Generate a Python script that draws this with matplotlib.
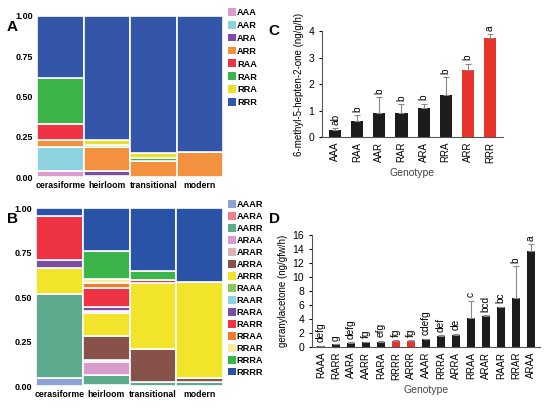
import matplotlib
matplotlib.use('Agg')
from matplotlib import pyplot as plt
from matplotlib.patches import Patch
import numpy as np

plt.rcParams['font.family'] = ['Liberation Sans', 'DejaVu Sans']

groups = ['cerasiforme', 'heirloom', 'transitional', 'modern']

# panel A: 3-locus haplotype frequencies per group
hap3 = ['AAA', 'AAR', 'ARA', 'ARR', 'RAA', 'RAR', 'RRA', 'RRR']
hap3_colors = ['#dc9bd0', '#8dd3df', '#7b4ea3', '#f4913f',
               '#ee3344', '#3bb54a', '#eae02a', '#3356a8']
freq3 = {
    'cerasiforme':  [0.037, 0.148, 0.0, 0.048, 0.095, 0.285, 0.0, 0.387],
    'heirloom':     [0.008, 0.0, 0.027, 0.150, 0.0, 0.015, 0.030, 0.770],
    'transitional': [0.0, 0.0, 0.0, 0.100, 0.0, 0.020, 0.030, 0.850],
    'modern':       [0.0, 0.0, 0.0, 0.155, 0.0, 0.0, 0.0, 0.845],
}

# panel B: 4-locus haplotype frequencies per group
hap4 = ['AAAR', 'AARA', 'AARR', 'ARAA', 'ARAR', 'ARRA', 'ARRR', 'RAAA',
        'RAAR', 'RARA', 'RARR', 'RRAA', 'RRAR', 'RRRA', 'RRRR']
hap4_colors = ['#8da0d8', '#ee8088', '#5daa8c', '#d89ccc', '#d9b4b4',
               '#86524a', '#f2e42a', '#8cc55a', '#8dd3df', '#7b4ea3',
               '#ee3344', '#f07d2e', '#faec9a', '#3bb54a', '#2a52a6']
freq4 = {
    'cerasiforme':  [0.045, 0.0, 0.475, 0.0, 0.0, 0.0, 0.145, 0.0,
                     0.0, 0.045, 0.245, 0.0, 0.0, 0.0, 0.045],
    'heirloom':     [0.0, 0.008, 0.055, 0.072, 0.012, 0.133, 0.130, 0.0,
                     0.012, 0.025, 0.103, 0.030, 0.020, 0.160, 0.240],
    'transitional': [0.0, 0.0, 0.025, 0.0, 0.0, 0.185, 0.370, 0.0,
                     0.0, 0.0, 0.015, 0.0, 0.0, 0.050, 0.355],
    'modern':       [0.0, 0.0, 0.022, 0.0, 0.0, 0.023, 0.540, 0.0,
                     0.0, 0.0, 0.0, 0.0, 0.0, 0.0, 0.415],
}

# panel C: 6-methyl-5-hepten-2-one by 3-locus genotype
gen_c = ['AAA', 'RAA', 'AAR', 'RAR', 'ARA', 'RRA', 'ARR', 'RRR']
mean_c = [0.28, 0.61, 0.89, 0.92, 1.10, 1.59, 2.53, 3.72]
err_c = [0.06, 0.23, 0.61, 0.33, 0.16, 0.67, 0.24, 0.18]
let_c = ['ab', 'b', 'b', 'b', 'b', 'b', 'b', 'a']
red_c = ['ARR', 'RRR']

# panel D: geranylacetone by 4-locus genotype
gen_d = ['RAAA', 'RARR', 'AARA', 'AARR', 'RARA', 'RRRR', 'ARRR', 'AAAR',
         'RRRA', 'ARRA', 'RRAA', 'ARAR', 'RAAR', 'RRAR', 'ARAA']
mean_d = [0.15, 0.35, 0.6, 0.65, 0.75, 0.8, 0.85, 1.1,
          1.5, 1.75, 4.15, 4.45, 5.65, 6.95, 13.65]
err_d = [0.0, 0.05, 0.05, 0.1, 0.12, 0.12, 0.1, 0.05,
         0.12, 0.15, 2.45, 0.05, 0.1, 4.55, 1.0]
let_d = ['defg', 'g', 'defg', 'fg', 'efg', 'fg', 'fg', 'cdefg',
         'def', 'de', 'c', 'bcd', 'bc', 'b', 'a']
red_d = ['RRRR', 'ARRR']


def mosaic(ax, freqs, haps, colors, leg_y, spacing):
    x = np.arange(len(groups))
    bottom = np.zeros(len(groups))
    for i, h in enumerate(haps):
        vals = np.array([freqs[g][i] for g in groups])
        ax.bar(x, vals, width=1.0, bottom=bottom, color=colors[i],
               edgecolor='white', linewidth=1.2)
        bottom += vals
    ax.set_xlim(-0.5, len(groups) - 0.5)
    ax.set_ylim(0, 1)
    ax.set_xticks(x)
    ax.set_xticklabels(groups, fontsize=6.3, fontweight='bold')
    ax.set_yticks([0, 0.25, 0.5, 0.75, 1.0])
    ax.set_yticklabels(['0.00', '0.25', '0.50', '0.75', '1.00'],
                       fontsize=6.5, fontweight='bold')
    ax.tick_params(length=0, pad=3)
    for s in ax.spines.values():
        s.set_visible(False)
    handles = [Patch(facecolor=c, edgecolor='none') for c in colors]
    ax.legend(handles, haps, loc='upper left',
              bbox_to_anchor=(1.0, leg_y), frameon=False,
              prop={'size': 6.6, 'weight': 'bold'},
              handlelength=0.9, handleheight=0.95,
              handletextpad=0.1, labelspacing=spacing,
              borderaxespad=0.1)


def barplot(ax, gens, means, errs, letters, reds, ymax, ystep, ylabel,
            fs=7):
    x = np.arange(len(gens))
    colors = ['#e8332a' if g in reds else '#1c1c1c' for g in gens]
    ax.bar(x, means, width=0.55, color=colors)
    ax.errorbar(x, means, yerr=[np.zeros(len(errs)), errs], fmt='none',
                ecolor='#888888', elinewidth=0.8, capsize=2, capthick=0.8)
    for xi, m, e, t in zip(x, means, errs, letters):
        ax.text(xi, m + e + ymax * 0.03, t, rotation=90, ha='center',
                va='bottom', fontsize=fs + 0.3)
    ax.set_xlim(-0.6, len(gens) - 0.4)
    ax.set_ylim(0, ymax)
    ax.set_yticks(np.arange(0, ymax + 0.01, ystep))
    ax.set_xticks(x)
    ax.set_xticklabels(gens, rotation=90, fontsize=fs)
    ax.tick_params(axis='y', labelsize=fs + 0.5, length=2)
    ax.tick_params(axis='x', length=0)
    ax.spines['top'].set_visible(False)
    ax.spines['right'].set_visible(False)
    ax.spines['left'].set_color('#555555')
    ax.spines['bottom'].set_color('#555555')
    ax.set_ylabel(ylabel, fontsize=fs, labelpad=3)
    ax.set_xlabel('Genotype', fontsize=fs + 0.5, color='#444444', labelpad=4)


fig = plt.figure(figsize=(5.56, 4.09), dpi=100)

axA = fig.add_axes([0.0665, 0.567, 0.335, 0.394])
mosaic(axA, freq3, hap3, hap3_colors, 1.08, 0.42)
axB = fig.add_axes([0.065, 0.056, 0.336, 0.435])
mosaic(axB, freq4, hap4, hap4_colors, 1.07, 0.31)

axC = fig.add_axes([0.579, 0.665, 0.326, 0.259])
barplot(axC, gen_c, mean_c, err_c, let_c, red_c, 4, 1,
        '6-methyl-5-hepten-2-one (ng/g/h)')
axD = fig.add_axes([0.561, 0.152, 0.41, 0.274])
barplot(axD, gen_d, mean_d, err_d, let_d, red_d, 16, 2,
        'geranylacetone (ng/gfw/h)')

for lab, xx, yy in [('A', 0.012, 0.925), ('B', 0.012, 0.455),
                    ('C', 0.483, 0.915), ('D', 0.483, 0.455)]:
    fig.text(xx, yy, lab, fontsize=11, fontweight='bold')

plt.savefig('out.png', dpi=100)
